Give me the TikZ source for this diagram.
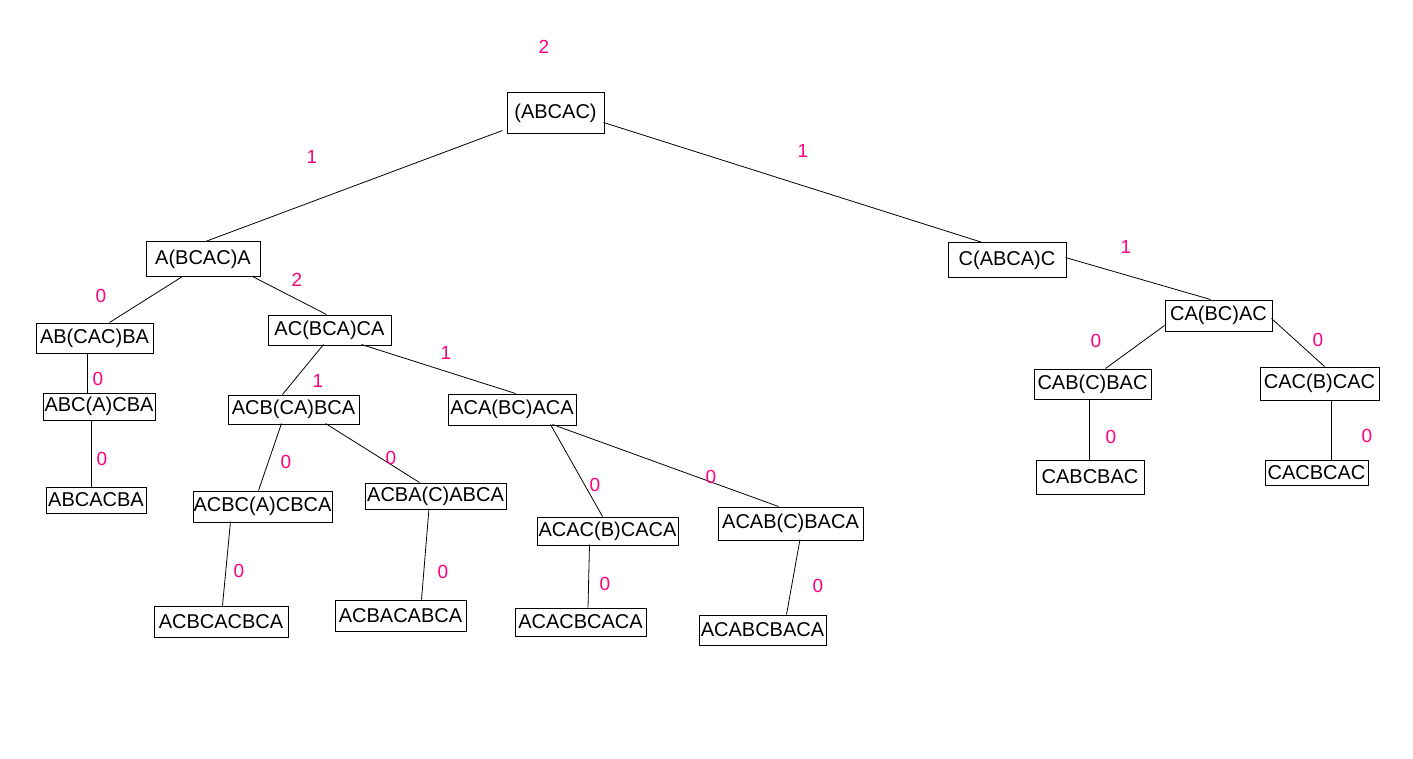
\documentclass[tikz,border=0pt]{standalone}
\usepackage{fontspec}
\setmainfont{Liberation Sans}
\definecolor{lbl}{RGB}{255,0,128}
\tikzset{
  box/.style={draw=black, line width=1pt, inner sep=0pt, font=\fontsize{20}{22}\selectfont},
  lab/.style={text=lbl, inner sep=0pt, font=\fontsize{19}{21}\selectfont},
  conn/.style={draw=black, line width=0.8pt}
}
\begin{document}
\begin{tikzpicture}[x=1pt,y=-1pt]
\useasboundingbox (0,0) rectangle (1413,759);
\fill[white] (0,0) rectangle (1413,759);
% boxes
\node[box, minimum width=97pt, minimum height=41pt] (root) at (555.5,113.5) {(ABCAC)};
\node[box, minimum width=114pt, minimum height=35pt] (A) at (203,259.5) {A(BCAC)A};
\node[box, minimum width=118pt, minimum height=35pt] (C) at (1007,260.5) {C(ABCA)C};
\node[box, minimum width=117pt, minimum height=30pt] (AB) at (94.5,338) {AB(CAC)BA};
\node[box, minimum width=112pt, minimum height=27pt] (ABC) at (99,406.5) {ABC(A)CBA};
\node[box, minimum width=100pt, minimum height=26pt] (ABCACBA) at (96,500) {ABCACBA};
\node[box, minimum width=123pt, minimum height=30pt] (AC) at (329.5,330) {AC(BCA)CA};
\node[box, minimum width=131pt, minimum height=29pt] (ACB) at (293.5,409.5) {ACB(CA)BCA};
\node[box, minimum width=128pt, minimum height=31pt] (ACA) at (512,409.5) {ACA(BC)ACA};
\node[box, minimum width=139pt, minimum height=31pt] (ACBC) at (262.5,506.5) {ACBC(A)CBCA};
\node[box, minimum width=141pt, minimum height=26pt] (ACBA) at (435.5,496) {ACBA(C)ABCA};
\node[box, minimum width=141pt, minimum height=28pt] (ACAC) at (607.5,531) {ACAC(B)CACA};
\node[box, minimum width=145pt, minimum height=33pt] (ACAB) at (790.5,523.5) {ACAB(C)BACA};
\node[box, minimum width=134pt, minimum height=31pt] (ACBCACBCA) at (221,621.5) {ACBCACBCA};
\node[box, minimum width=131pt, minimum height=31pt] (ACBACABCA) at (400.5,615.5) {ACBACABCA};
\node[box, minimum width=131pt, minimum height=28pt] (ACACBCACA) at (580.5,622) {ACACBCACA};
\node[box, minimum width=127pt, minimum height=30pt] (ACABCBACA) at (762.5,630) {ACABCBACA};
\node[box, minimum width=107pt, minimum height=31pt] (CA) at (1218.5,315.5) {CA(BC)AC};
\node[box, minimum width=117pt, minimum height=30pt] (CAB) at (1092.5,384) {CAB(C)BAC};
\node[box, minimum width=119pt, minimum height=33pt] (CAC) at (1319.5,383.5) {CAC(B)CAC};
\node[box, minimum width=108pt, minimum height=34pt] (CABCBAC) at (1090,477) {CABCBAC};
\node[box, minimum width=103pt, minimum height=25pt] (CACBCAC) at (1316.5,472.5) {CACBCAC};
% connectors
\draw[conn] ([shift={(-4,38)}]root.north west) -- ([shift={(60,0)}]A.north west);
\draw[conn] ([shift={(97,30)}]root.north west) -- ([shift={(35,0)}]C.north west);
\draw[conn] ([shift={(37,35)}]A.north west) -- ([shift={(74,0)}]AB.north west);
\draw[conn] ([shift={(107,35)}]A.north west) -- ([shift={(59,0)}]AC.north west);
\draw[conn] ([shift={(52,30)}]AB.north west) -- ([shift={(45,0)}]ABC.north west);
\draw[conn] ([shift={(49,27)}]ABC.north west) -- ([shift={(46,0)}]ABCACBA.north west);
\draw[conn] ([shift={(56,30)}]AC.north west) -- ([shift={(55,0)}]ACB.north west);
\draw[conn] ([shift={(94,30)}]AC.north west) -- ([shift={(68,0)}]ACA.north west);
\draw[conn] ([shift={(54,29)}]ACB.north west) -- ([shift={(66,0)}]ACBC.north west);
\draw[conn] ([shift={(98,29)}]ACB.north west) -- ([shift={(55,0)}]ACBA.north west);
\draw[conn] ([shift={(38,31)}]ACBC.north west) -- ([shift={(69,0)}]ACBCACBCA.north west);
\draw[conn] ([shift={(64.5,26)}]ACBA.north west) -- ([shift={(87,0)}]ACBACABCA.north west);
\draw[conn] ([shift={(103,31)}]ACA.north west) -- ([shift={(66,0)}]ACAC.north west);
\draw[conn] ([shift={(105,31)}]ACA.north west) -- ([shift={(61,0)}]ACAB.north west);
\draw[conn] ([shift={(53,28)}]ACAC.north west) -- ([shift={(73.5,0)}]ACACBCACA.north west);
\draw[conn] ([shift={(82.5,33)}]ACAB.north west) -- ([shift={(88,0)}]ACABCBACA.north west);
\draw[conn] ([shift={(118,15)}]C.north west) -- ([shift={(46,0)}]CA.north west);
\draw[conn] ([shift={(0,26)}]CA.north west) -- ([shift={(72,0)}]CAB.north west);
\draw[conn] ([shift={(107,19)}]CA.north west) -- ([shift={(65,0)}]CAC.north west);
\draw[conn] ([shift={(56,30)}]CAB.north west) -- ([shift={(54,0)}]CABCBAC.north west);
\draw[conn] ([shift={(72,33)}]CAC.north west) -- ([shift={(67,0)}]CACBCAC.north west);
% labels
\node[lab] (l1) at (544,47) {2};
\node[lab] (l2) at (312,157) {1};
\node[lab] (l3) at (803,151) {1};
\node[lab] (l4) at (1126,247) {1};
\node[lab] (l5) at (101,296) {0};
\node[lab] (l6) at (297,280) {2};
\node[lab] (l7) at (98,379) {0};
\node[lab] (l8) at (318,381) {1};
\node[lab] (l9) at (446,353) {1};
\node[lab] (l10) at (102,459) {0};
\node[lab] (l11) at (286,462) {0};
\node[lab] (l12) at (391,458) {0};
\node[lab] (l13) at (595,485) {0};
\node[lab] (l14) at (711,477) {0};
\node[lab] (l15) at (239,571) {0};
\node[lab] (l16) at (443,572) {0};
\node[lab] (l17) at (605,584) {0};
\node[lab] (l18) at (818,586) {0};
\node[lab] (l19) at (1096,341) {0};
\node[lab] (l20) at (1318,340) {0};
\node[lab] (l21) at (1111,437) {0};
\node[lab] (l22) at (1367,436) {0};
\end{tikzpicture}
\end{document}
